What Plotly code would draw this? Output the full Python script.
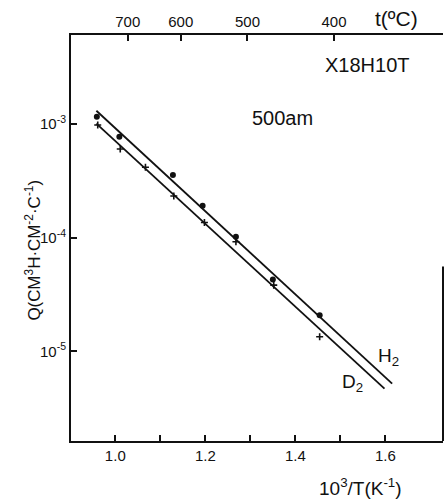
import plotly.graph_objects as go

# Inverse temperature 10^3/T (K^-1) and permeation rate Q
h2_x = [0.959, 1.009, 1.128, 1.194, 1.268, 1.350, 1.454]
h2_q = [1.16e-3, 7.73e-4, 3.56e-4, 1.91e-4, 1.02e-4, 4.29e-5, 2.07e-5]

d2_x = [0.961, 1.011, 1.067, 1.130, 1.198, 1.268, 1.352, 1.454]
d2_q = [9.8e-4, 6.03e-4, 4.17e-4, 2.33e-4, 1.36e-4, 9.2e-5, 3.82e-5, 1.34e-5]

# Fitted Arrhenius lines (end points)
h2_fit_x = [0.958, 1.615]
h2_fit_q = [1.31e-3, 5.19e-6]
d2_fit_x = [0.958, 1.598]
d2_fit_q = [1.01e-3, 4.69e-6]

# Axis ticks
x_ticks = [1.0, 1.1, 1.2, 1.3, 1.4, 1.5, 1.6]
x_labels = ["1.0", "", "1.2", "", "1.4", "", "1.6"]
y_ticks = [1e-3, 1e-4, 1e-5]
y_labels = ["10<sup>-3</sup>", "10<sup>-4</sup>", "10<sup>-5</sup>"]
t_labels = [700, 600, 500, 400]
t_positions = [1000.0 / (t + 273.0) for t in t_labels]

x_range = [0.9016, 1.728]
y_range = [-5.79, -2.216]

FONT = "Liberation Sans Narrow, Liberation Sans, DejaVu Sans, sans-serif"
INK = "#111111"

fig = go.Figure()

fig.add_trace(go.Scatter(x=h2_fit_x, y=h2_fit_q, mode="lines",
                         line=dict(color=INK, width=1.8), showlegend=False))
fig.add_trace(go.Scatter(x=d2_fit_x, y=d2_fit_q, mode="lines",
                         line=dict(color=INK, width=1.8), showlegend=False))
fig.add_trace(go.Scatter(x=h2_x, y=h2_q, mode="markers",
                         marker=dict(symbol="circle", size=6, color=INK),
                         showlegend=False))
fig.add_trace(go.Scatter(x=d2_x, y=d2_q, mode="markers",
                         marker=dict(symbol="cross-thin", size=5,
                                     line=dict(color=INK, width=1.6)),
                         showlegend=False))
# invisible trace to activate the top temperature axis
fig.add_trace(go.Scatter(x=[x_range[0]], y=[1e-3], xaxis="x2", mode="markers",
                         marker=dict(opacity=0), showlegend=False,
                         hoverinfo="skip"))

fig.update_layout(
    width=445, height=503,
    margin=dict(l=71, r=2, t=35, b=62),
    paper_bgcolor="white", plot_bgcolor="white",
    font=dict(family=FONT, color=INK, size=14),
    xaxis=dict(range=x_range, tickvals=x_ticks, ticktext=x_labels,
               ticks="inside", ticklen=6, tickwidth=1.5, tickcolor=INK,
               showline=True, linecolor=INK, linewidth=2, showgrid=False,
               zeroline=False, tickfont=dict(size=15)),
    xaxis2=dict(range=x_range, overlaying="x", side="top",
                tickvals=t_positions, ticktext=[str(t) for t in t_labels],
                ticks="inside", ticklen=6, tickwidth=1.5, tickcolor=INK,
                showline=True, linecolor=INK, linewidth=1.5, showgrid=False,
                zeroline=False, tickfont=dict(size=15)),
    yaxis=dict(type="log", range=y_range, tickvals=y_ticks, ticktext=y_labels,
               ticks="inside", ticklen=6, tickwidth=1.5, tickcolor=INK,
               showline=True, linecolor=INK, linewidth=2, showgrid=False,
               zeroline=False, tickfont=dict(size=15)),
    yaxis2=dict(type="log", range=y_range, overlaying="y", side="right",
                tickvals=y_ticks, showticklabels=False,
                ticks="inside", ticklen=6, tickwidth=1.5, tickcolor=INK,
                showline=False, showgrid=False, zeroline=False),
)

# partial right frame line
fig.add_shape(type="line", xref="paper", yref="paper",
              x0=1.0, x1=1.0, y0=0.0, y1=0.43,
              line=dict(color=INK, width=2))

notes = [
    ("Q(СМ<sup>3</sup>H·СМ<sup>-2</sup>·С<sup>-1</sup>)", -0.101, 0.47, 17, -90),
    ("10<sup>3</sup>/T(K<sup>-1</sup>)", 0.778, -0.113, 19, 0),
    ("t(ºC)", 0.874, 1.04, 21, 0),
    ("X18H10T", 0.797, 0.926, 20, 0),
    ("500am", 0.568, 0.796, 20, 0),
    ("H<sub>2</sub>", 0.853, 0.207, 19, 0),
    ("D<sub>2</sub>", 0.756, 0.143, 19, 0),
]
for text, x, y, size, angle in notes:
    fig.add_annotation(text=text, xref="paper", yref="paper", x=x, y=y,
                       xanchor="center", yanchor="middle",
                       showarrow=False, textangle=angle,
                       font=dict(size=size, family=FONT, color=INK))

fig.write_html("out.html")
